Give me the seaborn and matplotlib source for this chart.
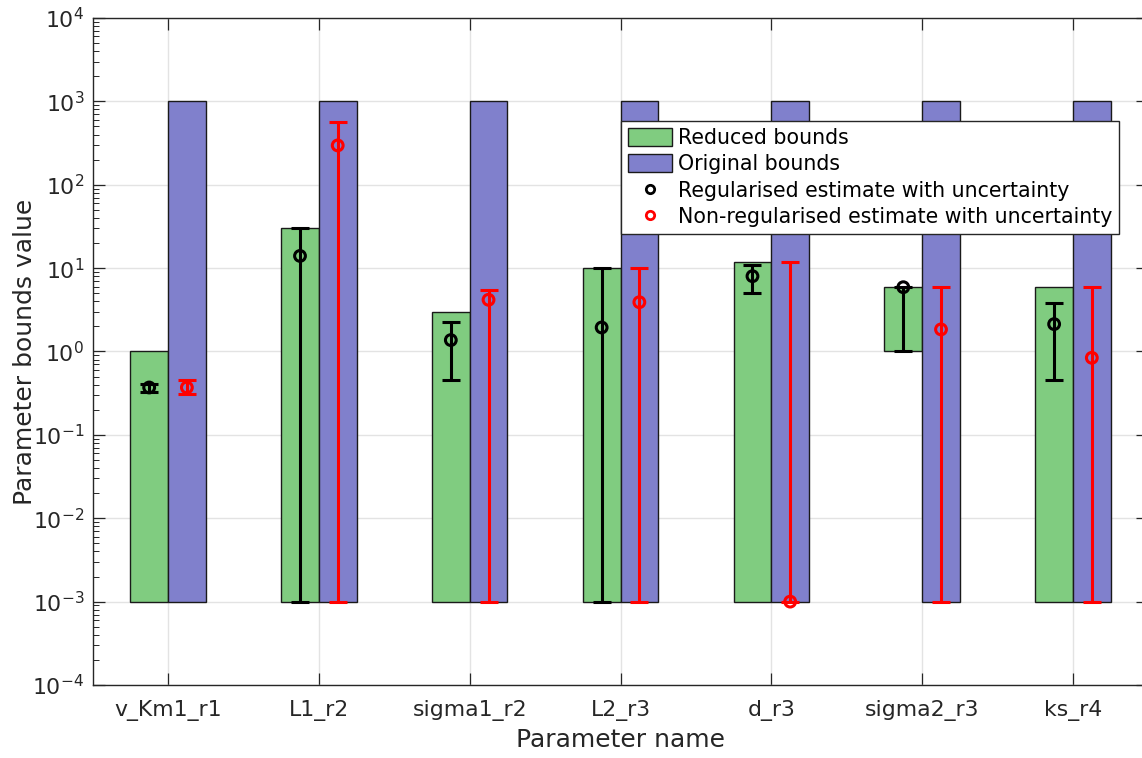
import numpy as np
import matplotlib
matplotlib.use("Agg")
import matplotlib.pyplot as plt
import seaborn as sns
import pandas as pd
from matplotlib.patches import Patch
from matplotlib.lines import Line2D
from matplotlib.ticker import LogLocator, FixedLocator, LogFormatterSciNotation, NullFormatter

# ---- data ----
params = ["v_Km1_r1", "L1_r2", "sigma1_r2", "L2_r3", "d_r3", "sigma2_r3", "ks_r4"]
reduced_lower = [1e-3, 1e-3, 1e-3, 1e-3, 1e-3, 1.0, 1e-3]
reduced_upper = [1.0, 30.0, 3.0, 10.0, 12.0, 6.0, 6.0]
original_lower = [1e-3, 1e-3, 1e-3, 1e-3, 1e-3, 1e-3, 1e-3]
original_upper = [1e3, 1e3, 1e3, 1e3, 1e3, 1e3, 1e3]
reg_est = [0.37, 14.0, 1.37, 1.94, 8.0, 5.9, 2.13]
reg_low = [0.325, 1e-3, 0.45, 1e-3, 5.06, 1.0, 0.45]
reg_high = [0.41, 30.0, 2.23, 10.0, 11.0, 6.0, 3.77]
nonreg_est = [0.37, 296.0, 4.17, 3.9, 1e-3, 1.84, 0.84]
nonreg_low = [0.31, 1e-3, 1e-3, 1e-3, 1e-3, 1e-3, 1e-3]
nonreg_high = [0.45, 560.0, 5.4, 10.0, 12.0, 6.0, 6.0]
y_ticks = [1e-4, 1e-3, 1e-2, 1e-1, 1e0, 1e1, 1e2, 1e3, 1e4]

GREEN = "#80CC80"
BLUE = "#8080CC"
TXT = "#262626"

sns.set_theme(style="white")
plt.rcParams["font.family"] = ["DejaVu Sans"]

fig = plt.figure(figsize=(11.42, 7.58), dpi=100)
ax = fig.add_axes([0.0811, 0.0963, 0.9245, 0.880])
ax.set_yscale("log")

x = np.arange(1, len(params) + 1)
w = 0.25
rl, ru = np.array(reduced_lower), np.array(reduced_upper)
ol, ou = np.array(original_lower), np.array(original_upper)
ax.bar(x - w / 2, ru - rl, bottom=rl, width=w, color=GREEN,
       edgecolor="#1a1a1a", linewidth=1.0, zorder=2)
ax.bar(x + w / 2, ou - ol, bottom=ol, width=w, color=BLUE,
       edgecolor="#1a1a1a", linewidth=1.0, zorder=2)

# error bars
re, rlo, rhi = np.array(reg_est), np.array(reg_low), np.array(reg_high)
ne, nlo, nhi = np.array(nonreg_est), np.array(nonreg_low), np.array(nonreg_high)
ax.errorbar(x - w / 2, re, yerr=[re - rlo, rhi - re], fmt="none",
            ecolor="black", elinewidth=2.2, capsize=6.5, capthick=2.2, zorder=3)
ax.errorbar(x + w / 2, ne, yerr=[ne - nlo, nhi - ne], fmt="none",
            ecolor="red", elinewidth=2.2, capsize=6.5, capthick=2.2, zorder=3)

df = pd.DataFrame({
    "x": np.concatenate([x - w / 2, x + w / 2]),
    "y": np.concatenate([re, ne]),
    "kind": ["reg"] * len(x) + ["nonreg"] * len(x),
})
sns.scatterplot(data=df, x="x", y="y", hue="kind",
                palette={"reg": "black", "nonreg": "red"},
                marker="o", s=60, linewidth=2.2,
                legend=False, ax=ax, zorder=4)
for coll in ax.collections:
    if coll.get_offsets() is not None and len(coll.get_offsets()) == len(df):
        fc = coll.get_facecolors()
        if len(fc):
            coll.set_edgecolors(fc)
            coll.set_facecolors("none")

ax.set_xlim(0.5, 7.5)
ax.set_ylim(1e-4, 1e4)
ax.set_xticks(x)
ax.set_xticklabels(params)
ax.yaxis.set_major_locator(FixedLocator(y_ticks))
ax.yaxis.set_major_formatter(LogFormatterSciNotation())
minor = [m * d for d in y_ticks[:-1] for m in range(2, 10)]
ax.yaxis.set_minor_locator(FixedLocator(minor))
ax.yaxis.set_minor_formatter(NullFormatter())

ax.set_axisbelow(True)
ax.grid(True, which="major", color="#e3e3e3", linewidth=1.0, zorder=0)

ax.tick_params(which="both", direction="in", top=True, right=True,
               bottom=True, left=True, colors=TXT)
ax.tick_params(axis="x", which="minor", bottom=False, top=False)
ax.tick_params(which="major", length=8.5, width=0.9, labelsize=15.8)
ax.tick_params(which="minor", length=4.5, width=0.7)
ax.tick_params(axis="x", pad=11)
ax.tick_params(axis="y", pad=6)
for sp in ax.spines.values():
    sp.set_color(TXT)
    sp.set_linewidth(1.0)

ax.set_xlabel("Parameter name", fontsize=18, color=TXT, labelpad=5)
ax.set_ylabel("Parameter bounds value", fontsize=18, color=TXT, labelpad=-3)

handles = [
    Patch(facecolor=GREEN, edgecolor="#1a1a1a", linewidth=1.0),
    Patch(facecolor=BLUE, edgecolor="#1a1a1a", linewidth=1.0),
    Line2D([], [], linestyle="none", marker="o", markersize=6,
           markerfacecolor="none", markeredgecolor="black", markeredgewidth=2),
    Line2D([], [], linestyle="none", marker="o", markersize=6,
           markerfacecolor="none", markeredgecolor="red", markeredgewidth=2),
]
labels = ["Reduced bounds", "Original bounds",
          "Regularised estimate with uncertainty",
          "Non-regularised estimate with uncertainty"]
leg = ax.legend(handles, labels, loc="upper left",
                bbox_to_anchor=(621 / 1142, 1 - 121 / 758),
                bbox_transform=fig.transFigure,
                fontsize=14.8, frameon=True, fancybox=False, framealpha=1,
                edgecolor=TXT, borderpad=0.32, labelspacing=0.3,
                handlelength=2.15, handleheight=1.0, handletextpad=0.3,
                borderaxespad=0)
leg.get_frame().set_linewidth(1.0)
for t in leg.get_texts():
    t.set_color("black")

fig.savefig("out.png", dpi=100)
